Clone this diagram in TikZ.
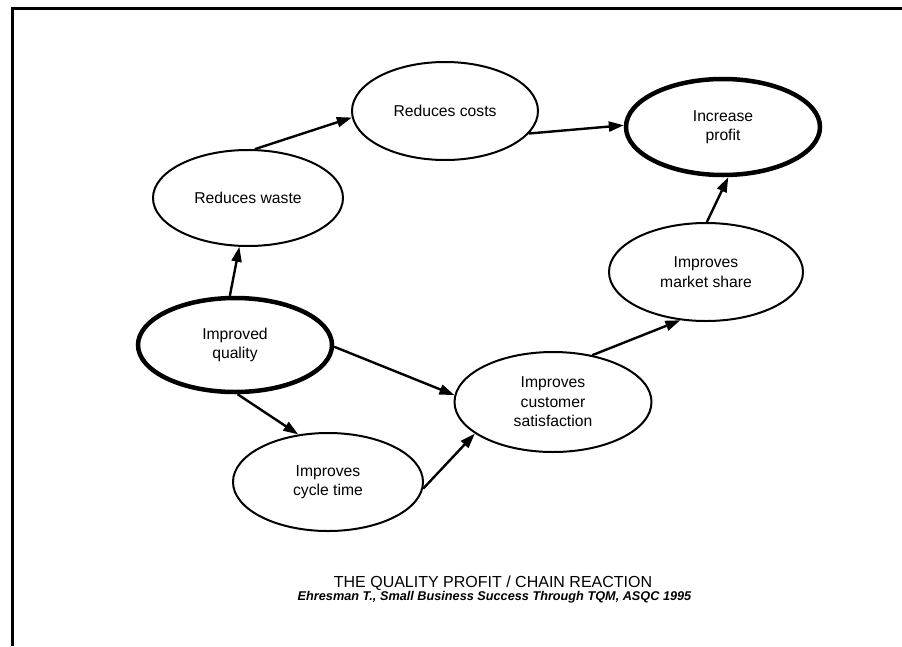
\documentclass[tikz,border=0pt]{standalone}
\usepackage{fontspec}
\setmainfont{Liberation Sans}
\usetikzlibrary{shapes.geometric,arrows.meta}
\begin{document}
\begin{tikzpicture}[x=1pt,y=1pt,
  bubble/.style={ellipse,draw,line width=2pt,inner sep=0pt,align=center,
    font=\fontsize{15.7}{19.5}\selectfont},
  keybubble/.style={bubble,line width=4.5pt},
  link/.style={line width=2.4pt,-{Triangle[length=15pt,width=10pt]}},
  frameline/.style={line width=2.6pt},
]
\useasboundingbox (0,0) rectangle (902,-646);

% open frame: top and left edges only
\coordinate (ftr) at (902,-8.3);
\coordinate (ftl) at (12.7,-8.3);
\coordinate (fbl) at (12.7,-646);
\draw[frameline] (ftr) -- (ftl) -- (fbl);

% the chain of effects
\node[keybubble,minimum width=194pt,minimum height=94pt] (iq) at (235,-345) {Improved\\quality};
\node[bubble,minimum width=190pt,minimum height=96pt] (rw) at (248,-198) {Reduces waste};
\node[bubble,minimum width=186pt,minimum height=98pt] (rc) at (445,-111) {Reduces costs};
\node[keybubble,minimum width=194pt,minimum height=96pt] (ip) at (723,-127) {Increase\\profit};
\node[bubble,minimum width=190pt,minimum height=98pt] (ct) at (328,-482) {Improves\\cycle time};
\node[bubble,minimum width=197pt,minimum height=100pt] (cs) at (553,-402) {Improves\\customer\\satisfaction};
\node[bubble,minimum width=194pt,minimum height=98pt] (ms) at (706,-272) {Improves\\market share};

% connectors
\draw[link] (iq.96) -- (rw.260);
\draw[link] (rw.82) -- (rc.184);
\draw[link] (rc.-15) -- (ip.179);
\draw[link] (ms.89) -- (ip.276);
\draw[link] (cs.50) -- (ms.242);
\draw[link] (iq.-1) -- (cs.176);
\draw[link] (iq.273) -- (ct.122);
\draw[link] (ct.-4) -- (cs.202);

% caption
\node[anchor=base,inner sep=0pt,font=\fontsize{16}{19}\selectfont] (title) at (493,-587)
  {THE QUALITY PROFIT / CHAIN REACTION};
\node[anchor=base,inner sep=0pt,font=\fontsize{12.7}{15}\selectfont\bfseries\itshape] (source) at (494.5,-600)
  {Ehresman T., Small Business Success Through TQM, ASQC 1995};
\end{tikzpicture}
\end{document}
